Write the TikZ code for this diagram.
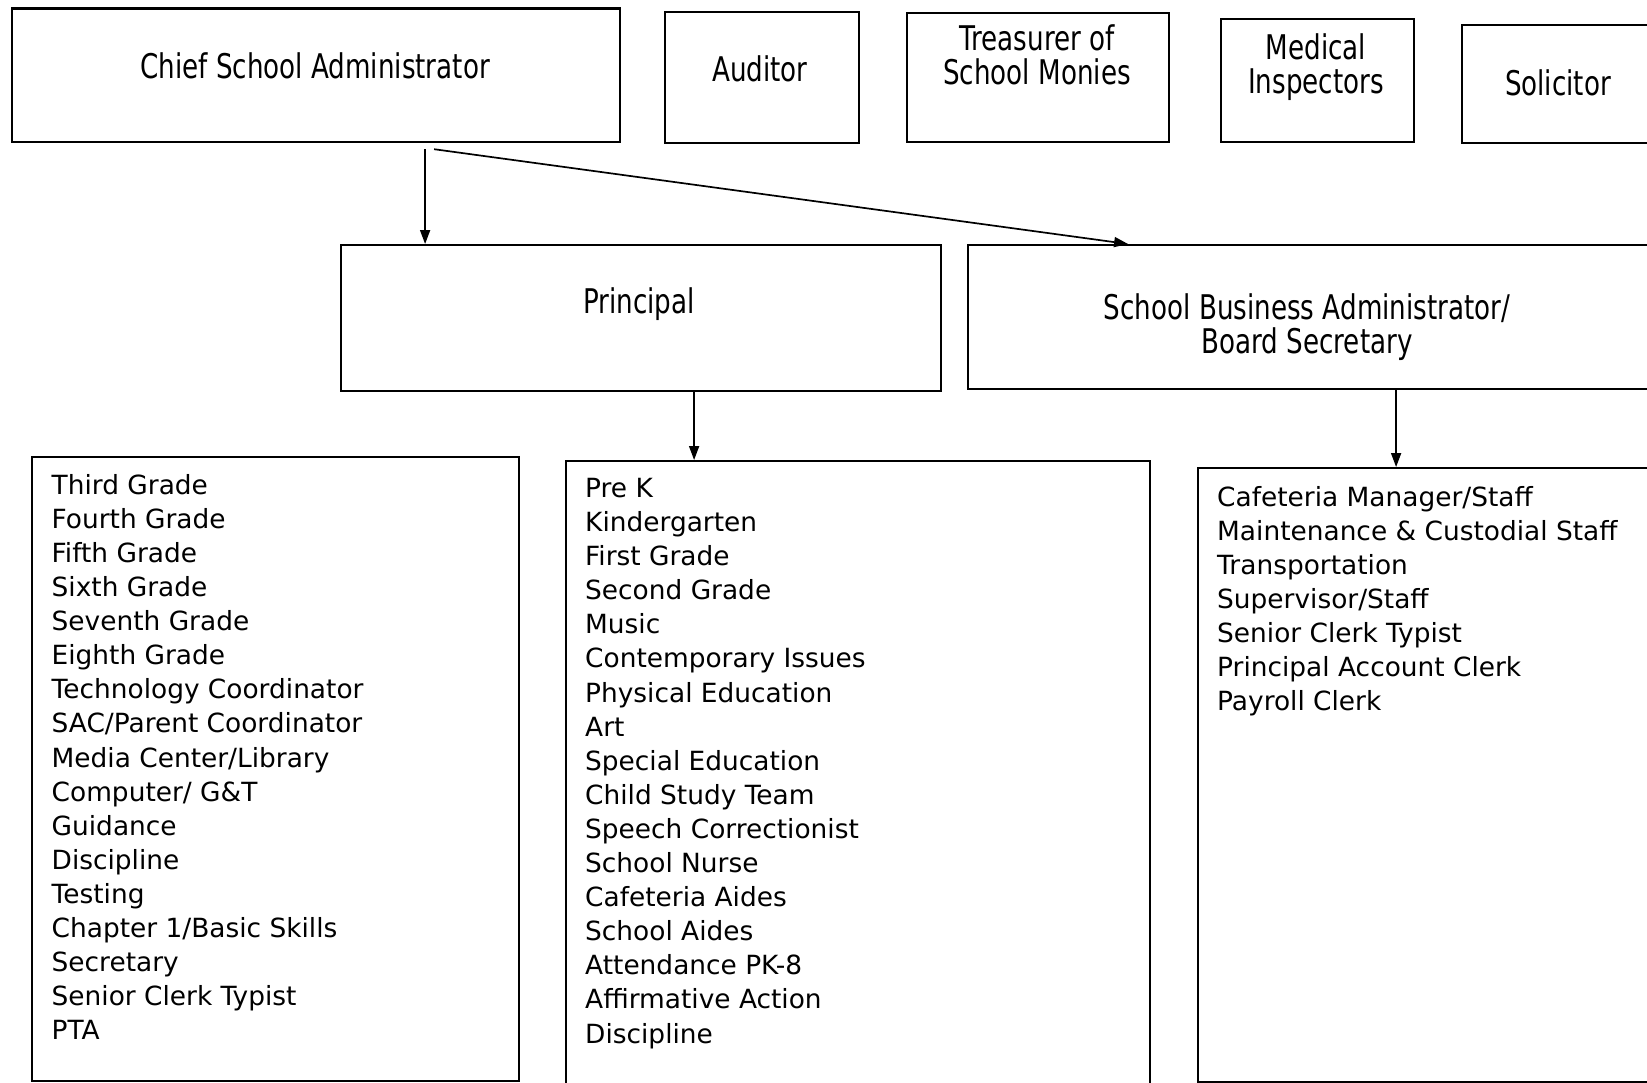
\documentclass[tikz,border=0pt]{standalone}
\usepackage{fontspec}
\usetikzlibrary{arrows.meta}
\newfontfamily\listfont{DejaVu Sans}
\newfontfamily\boxfont{DejaVu Sans}[FakeStretch=0.77]
\begin{document}
\begin{tikzpicture}[x=1pt,y=-1pt,
  box/.style={draw, line width=2.2pt, rectangle, inner sep=0pt, anchor=north west},
  toptext/.style={inner sep=0pt, font=\boxfont\fontsize{34}{34}\selectfont, align=center},
  listtext/.style={inner sep=0pt, anchor=north west, align=left, font=\listfont\fontsize{26.4}{34.1}\selectfont},
  arr/.style={line width=1.7pt, -{Triangle[length=14pt,width=10pt]}}]
\useasboundingbox[fill=white] (0,0) rectangle (1647,1082);

% boxes
\node[box, minimum width=608.5pt, minimum height=133.6pt] (csa) at (10.5,7.4) {};
\node[box, minimum width=194pt, minimum height=131.5pt] (aud) at (664,10.5) {};
\node[box, minimum width=262pt, minimum height=129.4pt] (tre) at (906,11.6) {};
\node[box, minimum width=193pt, minimum height=123pt] (med) at (1220,18) {};
\node[box, minimum width=209pt, minimum height=118pt] (sol) at (1461,24) {};
\node[box, minimum width=600pt, minimum height=146pt] (pr) at (340,244) {};
\node[box, minimum width=703pt, minimum height=144pt] (sba) at (967,244) {};
\node[box, minimum width=487.5pt, minimum height=624pt] (lst1) at (30.5,456) {};
\node[box, minimum width=584pt, minimum height=640pt] (lst2) at (565,460) {};
\node[box, minimum width=473pt, minimum height=613.5pt] (lst3) at (1197,467) {};

% box titles
\node[toptext, anchor=base] (tcsa) at (315,78.8) {Chief School Administrator};
\node[toptext, anchor=base] (taud) at (760,81) {Auditor};
\node[toptext, anchor=north] (ttre) at (1037,24.6) {Treasurer of\\School Monies};
\node[toptext, anchor=north] (tmed) at (1316,33) {Medical\\Inspectors};
\node[toptext, anchor=base] (tsol) at (1558,95.6) {Solicitor};
\node[toptext, anchor=base] (tpr) at (639,313) {Principal};
\node[toptext, anchor=north] (tsba) at (1307,293) {School Business Administrator/\\Board Secretary};

% lists
\node[listtext] (l1) at (51.5,474) {Third Grade\\Fourth Grade\\Fifth Grade\\Sixth Grade\\Seventh Grade\\Eighth Grade\\Technology Coordinator\\SAC/Parent Coordinator\\Media Center/Library\\Computer/ G\&T\\Guidance\\Discipline\\Testing\\Chapter 1/Basic Skills\\Secretary\\Senior Clerk Typist\\PTA};
\node[listtext] (l2) at (585,478) {Pre K\\Kindergarten\\First Grade\\Second Grade\\Music\\Contemporary Issues\\Physical Education\\Art\\Special Education\\Child Study Team\\Speech Correctionist\\School Nurse\\Cafeteria Aides\\School Aides\\Attendance PK-8\\Affirmative Action\\Discipline};
\node[listtext] (l3) at (1217,486) {Cafeteria Manager/Staff\\Maintenance \& Custodial Staff\\Transportation\\Supervisor/Staff\\Senior Clerk Typist\\Principal Account Clerk\\Payroll Clerk};

% connectors
\draw[arr] ([xshift=109.25pt,yshift=-6pt]csa.south) -- ([xshift=-216pt]pr.north);
\draw[arr] ([xshift=118.25pt,yshift=-6pt]csa.south) -- ([xshift=-191.5pt]sba.north);
\draw[arr] ([xshift=53pt]pr.south) -- ([xshift=-164pt]lst2.north);
\draw[arr] ([xshift=76.5pt]sba.south) -- ([xshift=-38.5pt]lst3.north);
\end{tikzpicture}
\end{document}
